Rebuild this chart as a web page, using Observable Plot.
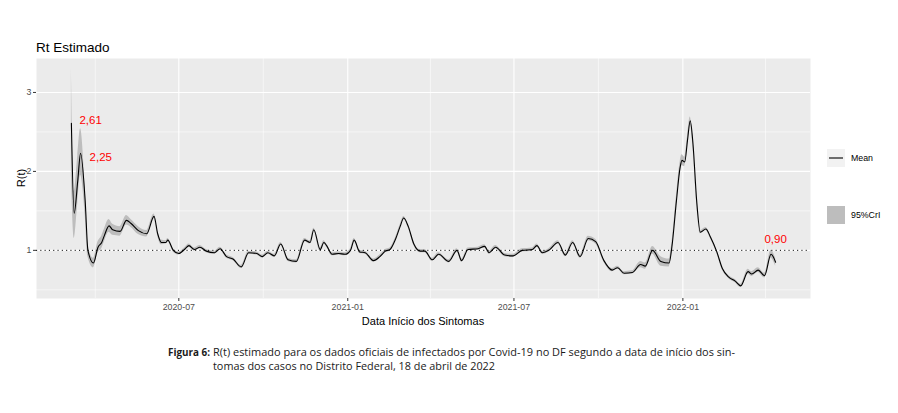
<!DOCTYPE html>
<html><head><meta charset="utf-8">
<script src="https://cdn.jsdelivr.net/npm/d3@7"></script>
<script src="https://cdn.jsdelivr.net/npm/@observablehq/plot@0.6"></script>
<style>body{margin:0;background:#fff;} #chart{width:898px;} #chart svg{display:block;}</style>
</head><body><div id="chart"></div>
<script>
const dates = ["2020-03-06","2020-03-09","2020-03-13","2020-03-16","2020-03-21","2020-03-24","2020-03-30","2020-04-04","2020-04-08","2020-04-11",
"2020-04-16","2020-04-20","2020-04-28","2020-05-05","2020-05-10","2020-05-18","2020-05-27","2020-06-04","2020-06-08","2020-06-12",
"2020-06-17","2020-06-19","2020-06-25","2020-07-01","2020-07-08","2020-07-12","2020-07-18","2020-07-24","2020-07-31","2020-08-09",
"2020-08-15","2020-08-22","2020-08-29","2020-09-07","2020-09-15","2020-09-24","2020-09-30","2020-10-06","2020-10-13","2020-10-20",
"2020-10-28","2020-11-06","2020-11-15","2020-11-21","2020-11-25","2020-12-02","2020-12-06","2020-12-09","2020-12-15","2020-12-22",
"2020-12-29","2021-01-04","2021-01-08","2021-01-14","2021-01-20","2021-01-29","2021-02-05","2021-02-11","2021-02-16","2021-02-22",
"2021-02-27","2021-03-03","2021-03-08","2021-03-14","2021-03-21","2021-03-26","2021-04-03","2021-04-10","2021-04-21","2021-04-30",
"2021-05-05","2021-05-12","2021-05-23","2021-05-30","2021-06-04","2021-06-11","2021-06-21","2021-06-30","2021-07-10","2021-07-21",
"2021-07-26","2021-08-01","2021-08-08","2021-08-18","2021-08-26","2021-09-03","2021-09-11","2021-09-20","2021-09-28","2021-10-07",
"2021-10-16","2021-10-22","2021-10-29","2021-11-07","2021-11-16","2021-11-21","2021-11-29","2021-12-08","2021-12-17","2021-12-20",
"2021-12-25","2021-12-29","2021-12-31","2022-01-03","2022-01-06","2022-01-09","2022-01-12","2022-01-16","2022-01-20","2022-01-26",
"2022-01-31","2022-02-07","2022-02-13","2022-02-20","2022-02-27","2022-03-05","2022-03-13","2022-03-17","2022-03-24","2022-03-31",
"2022-04-07","2022-04-12"];
const rtMean = [2.61,1.47,1.89,2.23,1.63,1.00,0.84,1.04,1.10,1.19,
1.31,1.26,1.24,1.38,1.34,1.25,1.21,1.43,1.21,1.10,
1.10,1.13,1.00,0.96,1.02,1.06,1.01,1.04,0.99,0.97,
1.02,0.92,0.89,0.79,0.97,0.96,0.92,0.97,0.93,1.08,
0.88,0.86,1.13,1.10,1.26,1.01,1.10,1.06,0.95,0.96,
0.95,1.00,1.13,0.98,0.97,0.87,0.92,0.99,1.01,1.14,
1.30,1.41,1.30,1.08,0.99,0.99,0.88,0.95,0.86,1.00,
0.87,1.01,1.02,1.05,0.97,1.04,0.94,0.93,1.00,1.01,
1.06,0.97,1.00,1.10,0.94,1.10,0.92,1.15,1.11,0.87,
0.75,0.78,0.71,0.72,0.82,0.80,1.00,0.86,0.84,1.04,
1.63,2.05,2.14,2.12,2.39,2.64,2.35,1.63,1.23,1.27,
1.17,0.98,0.77,0.66,0.61,0.55,0.73,0.70,0.75,0.68,
0.95,0.85];
const rtLower = [1.95,1.15,1.60,1.95,1.45,0.92,0.78,0.97,1.02,1.11,
1.23,1.19,1.18,1.32,1.29,1.20,1.17,1.40,1.18,1.07,
1.08,1.11,0.98,0.94,1.00,1.04,0.99,1.02,0.97,0.95,
1.00,0.90,0.87,0.77,0.95,0.94,0.90,0.95,0.91,1.06,
0.86,0.84,1.11,1.08,1.24,0.99,1.08,1.04,0.93,0.94,
0.93,0.98,1.11,0.96,0.95,0.85,0.90,0.97,0.99,1.12,
1.28,1.39,1.28,1.06,0.97,0.97,0.86,0.93,0.84,0.98,
0.85,0.99,1.00,1.03,0.95,1.02,0.92,0.91,0.98,0.99,
1.04,0.95,0.98,1.08,0.92,1.08,0.90,1.12,1.08,0.85,
0.73,0.76,0.69,0.70,0.78,0.76,0.95,0.80,0.79,0.99,
1.57,1.98,2.07,2.06,2.34,2.59,2.31,1.60,1.21,1.25,
1.15,0.96,0.75,0.64,0.59,0.53,0.70,0.67,0.72,0.65,
0.90,0.80];
const rtUpper = [3.30,1.75,2.20,2.54,1.80,1.08,0.90,1.11,1.18,1.27,
1.39,1.33,1.30,1.44,1.39,1.30,1.25,1.46,1.24,1.13,
1.12,1.15,1.02,0.98,1.04,1.08,1.03,1.06,1.01,0.99,
1.04,0.94,0.91,0.81,0.99,0.98,0.94,0.99,0.95,1.10,
0.90,0.88,1.15,1.12,1.28,1.03,1.12,1.08,0.97,0.98,
0.97,1.02,1.15,1.00,0.99,0.89,0.94,1.01,1.03,1.16,
1.32,1.43,1.32,1.10,1.01,1.01,0.90,0.97,0.88,1.02,
0.89,1.03,1.04,1.07,0.99,1.06,0.96,0.95,1.02,1.03,
1.08,0.99,1.02,1.12,0.96,1.12,0.94,1.18,1.14,0.89,
0.77,0.80,0.73,0.74,0.86,0.84,1.05,0.92,0.89,1.09,
1.69,2.12,2.21,2.18,2.44,2.69,2.39,1.66,1.25,1.29,
1.19,1.00,0.79,0.68,0.63,0.57,0.76,0.73,0.78,0.71,
1.00,0.90];

const xMajorTicks = ["2020-07-01","2021-01-01","2021-07-01","2022-01-01"];
const xMinorTicks = ["2020-04-01","2020-10-01","2021-04-01","2021-10-01","2022-04-01"];
const yMajorTicks = [1, 2, 3];
const yMinorTicks = [0.5, 1.5, 2.5];
const labelTexts = ["2,61", "2,25", "0,90"];
const labelIndex = [0, 3, 121];

const data = dates.map((d, i) => ({date: new Date(d), mean: rtMean[i], lo: rtLower[i], hi: rtUpper[i]}));
const majorDates = xMajorTicks.map(d => new Date(d));
const minorDates = xMinorTicks.map(d => new Date(d));
const lab = labelIndex.map((k, j) => ({date: data[k].date, v: data[k].mean, text: labelTexts[j]}));

const font = "'Liberation Sans', Arial, sans-serif";
const chart = Plot.plot({
  width: 898, height: 330,
  marginLeft: 36, marginRight: 88, marginTop: 58, marginBottom: 32,
  style: {fontFamily: font, background: "#fff", overflow: "visible"},
  x: {type: "utc", domain: [new Date("2020-01-28"), new Date("2022-05-20")], label: null},
  y: {domain: [0.39, 3.43], label: null},
  marks: [
    Plot.frame({fill: "#ebebeb", stroke: "none"}),
    Plot.ruleY(yMinorTicks, {stroke: "#fff", strokeWidth: 0.55}),
    Plot.ruleX(minorDates, {stroke: "#fff", strokeWidth: 0.55}),
    Plot.ruleY(yMajorTicks, {stroke: "#fff", strokeWidth: 1.1}),
    Plot.ruleX(majorDates, {stroke: "#fff", strokeWidth: 1.1}),
    Plot.areaY(data, {x: "date", y1: "lo", y2: "hi", fill: "#bdbdbd", curve: "monotone-x"}),
    Plot.ruleY([1], {stroke: "#000", strokeWidth: 1, strokeDasharray: "1.1,3.2"}),
    Plot.lineY(data, {x: "date", y: "mean", stroke: "#000", strokeWidth: 1.1, curve: "monotone-x"}),
    Plot.axisY(yMajorTicks, {tickSize: 3, tickPadding: 2, fontSize: 8.8, tickFormat: d => String(d), fill: "#4d4d4d", stroke: "#333"}),
    Plot.axisX(majorDates, {tickSize: 3, tickPadding: 2, fontSize: 8.8, tickFormat: d3.utcFormat("%Y-%m"), fill: "#4d4d4d", stroke: "#333"}),
    Plot.text([lab[0]], {x: "date", y: "v", text: "text", fill: "#f00", fontSize: 11.5, textAnchor: "start", lineAnchor: "middle", dx: 8, dy: -3}),
    Plot.text([lab[1]], {x: "date", y: "v", text: "text", fill: "#f00", fontSize: 11.5, textAnchor: "start", lineAnchor: "middle", dx: 9, dy: 4}),
    Plot.text([lab[2]], {x: "date", y: "v", text: "text", fill: "#f00", fontSize: 11.5, textAnchor: "middle", lineAnchor: "middle", dx: 0, dy: -23})
  ]
});
document.getElementById("chart").appendChild(chart);

const svg = d3.select(chart);
function addText(sel, x, y, size, txt, anchor) {
  return sel.append("text").attr("x", x).attr("y", y).attr("font-size", size).attr("fill", "#000")
    .attr("font-family", font).attr("text-anchor", anchor || "start").text(txt);
}
addText(svg, 36, 52, "13.5px", "Rt Estimado");
svg.append("text").attr("transform", "translate(25,178) rotate(-90)").attr("text-anchor", "middle").attr("font-size", "11px").attr("fill", "#000").attr("font-family", font).text("R(t)");
addText(svg, 423, 325, "11px", "Data Início dos Sintomas", "middle");
// legend
svg.append("rect").attr("x", 827).attr("y", 149).attr("width", 18).attr("height", 18).attr("fill", "#f2f2f2");
svg.append("line").attr("x1", 829).attr("x2", 843).attr("y1", 158).attr("y2", 158).attr("stroke", "#000").attr("stroke-width", 1.1);
addText(svg, 851, 158, "8.8px", "Mean").attr("dy", "0.35em");
svg.append("rect").attr("x", 827).attr("y", 206).attr("width", 18).attr("height", 18).attr("fill", "#bdbdbd");
addText(svg, 851, 215, "8.8px", "95%CrI").attr("dy", "0.35em");

// caption
const cf = "'Open Sans', 'Noto Sans', sans-serif";
const cap = d3.select("#chart").append("svg").attr("width", 898).attr("height", 83).style("display", "block");
cap.append("text").attr("x", 168).attr("y", 26).attr("font-family", cf).attr("font-weight", "bold").attr("font-size", "10.5px").attr("fill", "#1a1a1a")
  .attr("text-anchor", "start").attr("textLength", 42).attr("lengthAdjust", "spacingAndGlyphs").text("Figura 6:");
cap.append("text").attr("x", 213).attr("y", 26).attr("font-family", cf).attr("font-size", "10.5px").attr("fill", "#1a1a1a")
  .attr("text-anchor", "start").attr("textLength", 522).attr("lengthAdjust", "spacingAndGlyphs").text("R(t) estimado para os dados oficiais de infectados por Covid-19 no DF segundo a data de início dos sin-");
cap.append("text").attr("x", 213).attr("y", 40).attr("font-family", cf).attr("font-size", "10.5px").attr("fill", "#1a1a1a")
  .attr("text-anchor", "start").attr("textLength", 282).attr("lengthAdjust", "spacingAndGlyphs").text("tomas dos casos no Distrito Federal, 18 de abril de 2022");
</script>
</body></html>
